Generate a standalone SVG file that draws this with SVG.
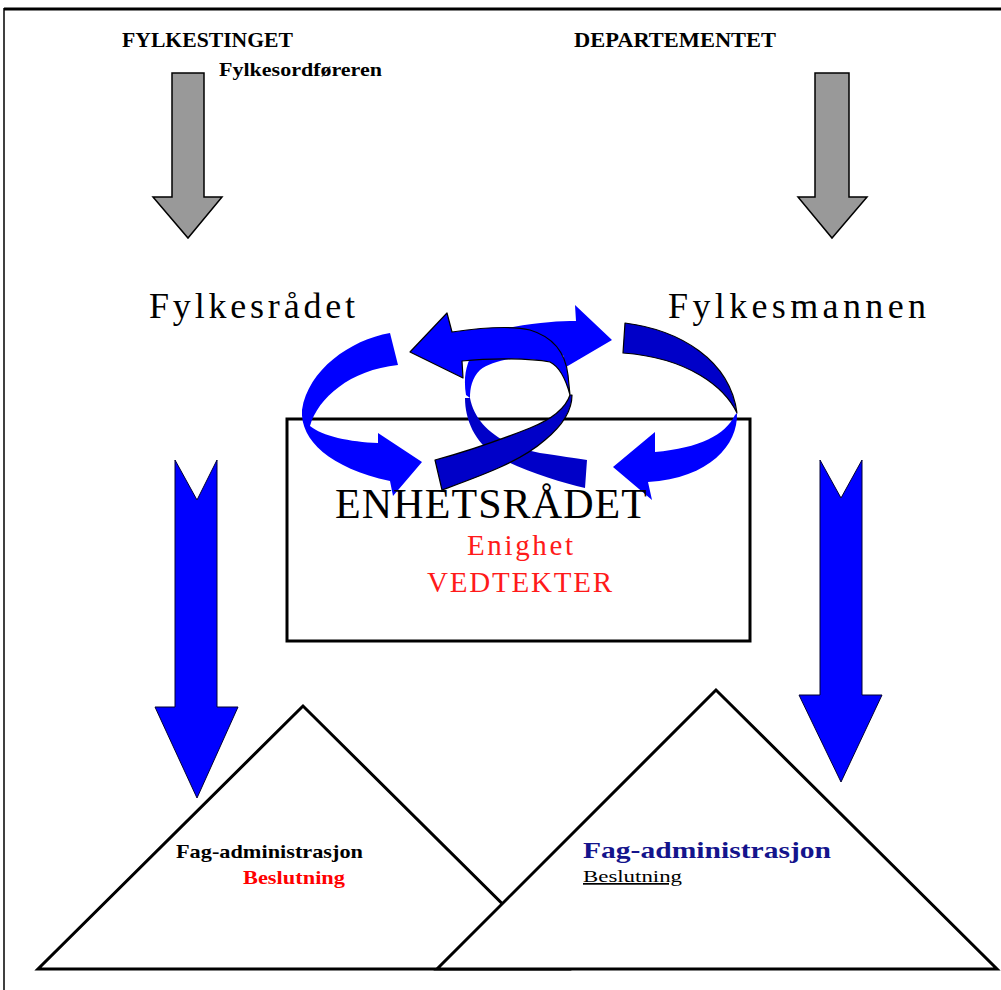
<svg xmlns="http://www.w3.org/2000/svg" width="1001" height="990" viewBox="0 0 1001 990">
<style>
.frame{fill:none;stroke:#000}
.gray{fill:#999999;stroke:#000;stroke-width:1.5}
.vblue{fill:#0000ff;stroke:#000033;stroke-width:1}
.bright{fill:#0000ff}
.dark{fill:#0000c8}
.outl{stroke:#000;stroke-width:1.2;stroke-linejoin:round}
.box{fill:#fff;stroke:#000;stroke-width:3}
.tri{fill:#fff;stroke:#000;stroke-width:3;stroke-linejoin:miter}
.serif{font-family:"Liberation Serif","Times New Roman",serif}
.bold{font-weight:bold}
</style>
<rect width="1001" height="990" fill="#fff"/>
<line class="frame" x1="4" y1="9" x2="1001" y2="9" stroke-width="3"/>
<line class="frame" x1="4" y1="8" x2="4" y2="990" stroke-width="1.5"/>

<g id="fylkestinget">
<text class="serif bold" x="122" y="47" font-size="20" textLength="171" lengthAdjust="spacingAndGlyphs">FYLKESTINGET</text>
<text class="serif bold" x="219" y="76" font-size="19" textLength="163" lengthAdjust="spacingAndGlyphs">Fylkesordføreren</text>
</g>
<g id="departementet">
<text class="serif bold" x="574" y="47" font-size="20" textLength="202" lengthAdjust="spacingAndGlyphs">DEPARTEMENTET</text>
</g>
<g id="fylkesradet">
<text class="serif" x="149" y="318" font-size="36" textLength="206" lengthAdjust="spacing">Fylkesrådet</text>
</g>
<g id="fylkesmannen">
<text class="serif" x="668" y="318" font-size="36" textLength="258" lengthAdjust="spacing">Fylkesmannen</text>
</g>

<g id="enhetsradet-box">
<rect class="box" x="287" y="419" width="463" height="222"/>
</g>

<g id="fag-left">
<polygon class="tri" points="303,706 38,969 568,969"/>
</g>
<g id="fag-right">
<polygon class="tri" points="716,690 437,969 997,969"/>
</g>

<g id="connectors">
<polygon class="gray" points="172,73 204,73 204,197 222,197 188,238 153,197 172,197"/>
<polygon class="gray" points="815,73 849,73 849,197 867,197 832,238 798,197 815,197"/>
<polygon class="vblue" points="175,460 197,500 217,460 217,707 238,707 197,798 155,707 175,707"/>
<polygon class="vblue" points="820,460 841,498 862,460 862,695 882,695 841,782 799,695 820,695"/>
<!-- Arrow A (left loop) -->
<path class="bright" d="M390,333 C350,340 308,370 302,410 C300,440 330,468 390,481 L393,496 L422,462 L378,433 L378,443 C350,442 322,436 310,426 C318,398 350,370 398,365 Z"/>
<!-- Arrow D (right loop) -->
<path class="dark outl" d="M625,323 C680,330 730,360 737,413 C725,388 690,358 623,353 Z"/>
<path class="bright" d="M737,413 C738,445 710,478 648,482 L652,500 L613,467 L655,432 L655,452 C700,448 725,435 735,415 Z"/>
<!-- Arrow C -->
<path class="dark" d="M470,398 C475,425 500,445 540,453 C560,456 575,458 587,460 L585,488 C560,482 520,470 495,455 C475,442 465,420 465,398 Z"/>
<path class="bright" d="M466,395 C460,360 480,332 513,327 C540,322 560,321 576,321 L575,305 L612,340 L566,367 L563,355 C530,356 495,358 480,370 C472,378 470,388 470,398 Z"/>
<!-- Arrow B -->
<path class="bright outl" d="M452,332 C480,328 510,325 530,330 C550,336 565,350 568,375 L570,395 C566,380 560,367 550,362 C530,358 490,358 462,361 L463,378 L410,352 L447,313 Z"/>
<path class="dark outl" d="M570,395 C565,410 550,420 530,428 C500,440 465,452 435,460 L442,490 C480,476 520,462 545,440 C562,426 572,410 572,395 Z"/>
</g>

<g id="enhetsradet">
<text class="serif" x="335" y="518" font-size="42" textLength="312" lengthAdjust="spacing">ENHETSRÅDET</text>
<text class="serif" x="467" y="555" font-size="29" fill="#ff1a1a" textLength="106" lengthAdjust="spacing">Enighet</text>
<text class="serif" x="427" y="592" font-size="29" fill="#ff1a1a" textLength="185" lengthAdjust="spacing">VEDTEKTER</text>
</g>

<g id="fag-left-text">
<text class="serif bold" x="176" y="858" font-size="19" textLength="187" lengthAdjust="spacingAndGlyphs">Fag-administrasjon</text>
<text class="serif bold" x="243" y="884" font-size="19" fill="#ff0000" textLength="102" lengthAdjust="spacingAndGlyphs">Beslutning</text>
</g>
<g id="fag-right-text">
<text class="serif bold" x="583" y="858" font-size="24" fill="#14148c" textLength="248" lengthAdjust="spacingAndGlyphs">Fag-administrasjon</text>
<text class="serif" x="583" y="882" font-size="17" textLength="99" lengthAdjust="spacingAndGlyphs" text-decoration="underline">Beslutning</text>
</g>
</svg>
